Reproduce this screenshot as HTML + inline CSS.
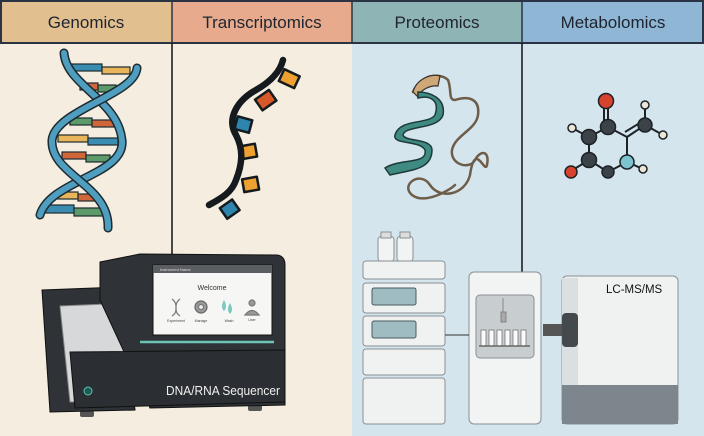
<!DOCTYPE html>
<html><head><style>
html,body{margin:0;padding:0;width:704px;height:436px;overflow:hidden;background:#fff}
svg{display:block}
text{font-family:"Liberation Sans",sans-serif}
</style></head><body>
<svg width="704" height="436" viewBox="0 0 704 436" xmlns="http://www.w3.org/2000/svg">
<rect x="0" y="0" width="352" height="436" fill="#f4ede0"/>
<rect x="352" y="0" width="352" height="436" fill="#d5e5ee"/>
<rect x="0" y="0" width="172" height="43" fill="#e2bf8f"/>
<rect x="172" y="0" width="180" height="43" fill="#e8aa8c"/>
<rect x="352" y="0" width="170" height="43" fill="#8fb4b5"/>
<rect x="522" y="0" width="182" height="43" fill="#8fb7d5"/>
<rect x="1" y="1" width="702" height="42" fill="none" stroke="#2a3344" stroke-width="2"/>
<line x1="172" y1="0" x2="172" y2="43" stroke="#2a3344" stroke-width="1.5"/>
<line x1="352" y1="0" x2="352" y2="43" stroke="#2a3344" stroke-width="1.5"/>
<line x1="522" y1="0" x2="522" y2="43" stroke="#2a3344" stroke-width="1.5"/>
<g font-size="17" fill="#1e2430" text-anchor="middle">
<text x="86" y="28">Genomics</text><text x="262" y="28">Transcriptomics</text>
<text x="437" y="28">Proteomics</text><text x="613" y="28">Metabolomics</text></g>
<line x1="172" y1="43" x2="172" y2="256" stroke="#111" stroke-width="1.5"/>
<line x1="522" y1="43" x2="522" y2="272" stroke="#111" stroke-width="1.5"/>
<g stroke="#1d2a30" stroke-width="1.2">
<rect x="72" y="64" width="30" height="7" fill="#3a8db0"/><rect x="102" y="67" width="28" height="7" fill="#e8b55a"/>
<rect x="80" y="83" width="18" height="7" fill="#d0663a"/><rect x="98" y="85" width="18" height="7" fill="#5d9a6a"/>
<rect x="70" y="118" width="22" height="7" fill="#5d9a6a"/><rect x="92" y="120" width="22" height="7" fill="#d0663a"/>
<rect x="58" y="135" width="30" height="7" fill="#e8b55a"/><rect x="88" y="138" width="30" height="7" fill="#3a8db0"/>
<rect x="62" y="152" width="24" height="7" fill="#d0663a"/><rect x="86" y="155" width="24" height="7" fill="#5d9a6a"/>
<rect x="58" y="192" width="20" height="7" fill="#e8b55a"/><rect x="78" y="194" width="18" height="7" fill="#d0663a"/>
<rect x="44" y="205" width="30" height="8" fill="#3a8db0"/><rect x="74" y="208" width="30" height="8" fill="#5d9a6a"/>
</g>
<g fill="none" stroke-linecap="round">
<path d="M64,53 C66,85 118,100 122,140 C126,175 50,180 40,215" stroke="#1d2a30" stroke-width="9"/>
<path d="M64,53 C66,85 118,100 122,140 C126,175 50,180 40,215" stroke="#4f9ec0" stroke-width="6"/>
<path d="M137,68 C135,95 55,110 52,140 C50,175 110,185 108,228" stroke="#1d2a30" stroke-width="9"/>
<path d="M137,68 C135,95 55,110 52,140 C50,175 110,185 108,228" stroke="#4f9ec0" stroke-width="6"/>
</g>
<g stroke="#151a1e" stroke-width="2.5" stroke-linejoin="round">
<rect x="281" y="72" width="17" height="13" fill="#eea030" transform="rotate(25 289 78)"/>
<rect x="257" y="94" width="17" height="13" fill="#d8582a" transform="rotate(-35 265 100)"/>
<rect x="236" y="118" width="15" height="13" fill="#2d85ad" transform="rotate(15 243 124)"/>
<rect x="241" y="145" width="15" height="13" fill="#eea030" transform="rotate(-10 248 151)"/>
<rect x="243" y="178" width="15" height="13" fill="#eea030" transform="rotate(-10 250 184)"/>
<rect x="222" y="203" width="15" height="13" fill="#2d85ad" transform="rotate(-35 229 209)"/>
</g>
<path d="M209,205 C222,198 232,192 236,180 C242,165 244,150 236,135 C226,118 238,100 256,90 C270,82 280,72 283,60" fill="none" stroke="#151a1e" stroke-width="6.5" stroke-linecap="round"/>
<g fill="none" stroke-linecap="round">
<path d="M413,92 C420,75 440,72 448,80 C452,90 448,100 455,100 C470,95 480,100 478,115 C476,130 455,135 452,150 C450,165 470,170 475,160 C480,150 490,150 487,165 C485,175 475,140 470,175 C465,195 440,200 430,185 C420,170 400,185 412,195 C425,205 450,190 455,185" stroke="#6e5d48" stroke-width="2.5"/>
<path d="M413,92 C416,80 430,73 440,76 L438,86 C430,85 420,90 418,97 Z" fill="#cfa87a" stroke="#3a3028" stroke-width="1.2"/>
<path d="M418,98 C430,95 440,100 435,115 C428,125 400,118 395,135 C392,145 420,140 425,150 C428,165 400,158 385,168 L390,175 C410,170 432,170 432,150 C432,138 405,142 403,135 C405,125 438,130 443,115 C446,98 430,92 418,92 Z" fill="#3f8a82" stroke="#1d3a38" stroke-width="1.5"/>
</g>
<g stroke="#1c2226" stroke-width="2">
<line x1="608" y1="102" x2="608" y2="127"/><line x1="604" y1="102" x2="604" y2="127"/>
<line x1="608" y1="127" x2="589" y2="137"/><line x1="589" y1="137" x2="572" y2="128"/>
<line x1="589" y1="137" x2="589" y2="160"/><line x1="589" y1="160" x2="571" y2="171"/>
<line x1="589" y1="160" x2="608" y2="172"/><line x1="608" y1="172" x2="627" y2="162"/>
<line x1="627" y1="162" x2="643" y2="169"/><line x1="627" y1="162" x2="627" y2="137"/>
<line x1="627" y1="137" x2="608" y2="127"/><line x1="627" y1="137" x2="645" y2="125"/><line x1="625" y1="132" x2="643" y2="121"/>
<line x1="645" y1="125" x2="645" y2="105"/><line x1="645" y1="125" x2="663" y2="135"/>
</g>
<g stroke="#1c2226" stroke-width="1.5">
<circle cx="606" cy="101" r="7.5" fill="#d8432f"/><circle cx="571" cy="172" r="6" fill="#d8432f"/>
<circle cx="608" cy="127" r="7.5" fill="#3b4348"/><circle cx="589" cy="137" r="7.5" fill="#3b4348"/>
<circle cx="589" cy="160" r="7.5" fill="#3b4348"/><circle cx="608" cy="172" r="6" fill="#3b4348"/>
<circle cx="645" cy="125" r="7" fill="#3b4348"/><circle cx="627" cy="162" r="7" fill="#7cc4cf"/>
<circle cx="572" cy="128" r="4" fill="#ebe8d8"/><circle cx="645" cy="105" r="4" fill="#ebe8d8"/>
<circle cx="663" cy="135" r="4" fill="#ebe8d8"/><circle cx="643" cy="169" r="4" fill="#ebe8d8"/>
</g>
<rect x="80" y="411" width="14" height="6" rx="2" fill="#555"/><rect x="248" y="405" width="14" height="6" rx="2" fill="#555"/>
<path d="M42,290 L120,287 L135,410 L50,412 Z" fill="#2f3236" stroke="#111" stroke-width="1"/>
<path d="M60,306 L130,303 L135,400 L70,402 Z" fill="#d6d8da" stroke="#888"/>
<path d="M100,262 L140,254 L277,255 Q285,256 285,265 L285,405 L150,408 L100,300 Z" fill="#2f3236" stroke="#111"/>
<path d="M70,352 L285,350 L285,402 L75,408 Z" fill="#2b2e32" stroke="#111"/>
<rect x="153" y="265" width="119" height="70" fill="#f6f6f4" stroke="#111"/>
<rect x="153" y="265" width="119" height="8" fill="#5a5d62"/>
<text x="160" y="271" font-size="4" fill="#ddd">Instrument Name</text>
<text x="212" y="290" font-size="7" fill="#333" text-anchor="middle">Welcome</text>
<g stroke="#777" fill="none" stroke-width="1.2"><path d="M172,299 C180,305 172,311 180,316 M180,299 C172,305 180,311 172,316"/>
<circle cx="201" cy="307" r="6" fill="#999" stroke="#666"/><circle cx="201" cy="307" r="2.5" fill="#eee"/>
<circle cx="252" cy="303" r="3" fill="#999"/><path d="M245,315 Q252,306 259,315 Z" fill="#999"/></g>
<path d="M224,300 Q220,307 224,311 Q228,307 224,300 Z M230,303 Q226,310 230,314 Q234,310 230,303 Z" fill="#7cc8bf"/>
<g font-size="3.5" fill="#444" text-anchor="middle"><text x="176" y="322">Experiment</text><text x="201" y="322">Manage</text><text x="229" y="322">Wash</text><text x="252" y="321">User</text></g>
<line x1="140" y1="342" x2="274" y2="342" stroke="#6cc3b6" stroke-width="2.5"/>
<circle cx="88" cy="391" r="4" fill="#1f5c55" stroke="#5ac4b0" stroke-width="1"/>
<text x="166" y="395" font-size="12.5" fill="#f0f0f0" textLength="114" lengthAdjust="spacingAndGlyphs">DNA/RNA Sequencer</text>
<g stroke="#8a8f94" stroke-width="1">
<rect x="378" y="236" width="16" height="26" rx="4" fill="#f2f3f3"/><rect x="397" y="236" width="16" height="26" rx="4" fill="#f2f3f3"/>
<rect x="381" y="232" width="10" height="6" fill="#ddd"/><rect x="400" y="232" width="10" height="6" fill="#ddd"/>
<rect x="363" y="261" width="82" height="18" rx="3" fill="#f0f1f1"/>
<rect x="363" y="283" width="82" height="30" rx="3" fill="#f0f1f1"/>
<rect x="363" y="316" width="82" height="30" rx="3" fill="#f0f1f1"/>
<rect x="363" y="349" width="82" height="26" rx="3" fill="#f0f1f1"/>
<rect x="363" y="378" width="82" height="46" rx="3" fill="#f0f1f1"/>
<rect x="372" y="288" width="44" height="17" rx="2" fill="#9fbcc2" stroke="#4a5a60"/>
<rect x="372" y="321" width="44" height="17" rx="2" fill="#9fbcc2" stroke="#4a5a60"/>
<rect x="469" y="272" width="72" height="152" rx="5" fill="#f2f3f3"/>
<rect x="476" y="295" width="58" height="63" rx="4" fill="#c8cdd0"/>
</g>
<line x1="445" y1="335" x2="469" y2="335" stroke="#333"/>
<g stroke="#777" stroke-width="0.8"><line x1="503" y1="298" x2="503" y2="322"/><rect x="501" y="312" width="5" height="10" fill="#aaa"/>
<rect x="481" y="330" width="5" height="16" fill="#fafafa"/><rect x="489" y="330" width="5" height="16" fill="#fafafa"/><rect x="497" y="330" width="5" height="16" fill="#fafafa"/><rect x="505" y="330" width="5" height="16" fill="#fafafa"/><rect x="513" y="330" width="5" height="16" fill="#fafafa"/><rect x="521" y="330" width="5" height="16" fill="#fafafa"/>
<line x1="479" y1="346" x2="530" y2="346" stroke="#666" stroke-width="1.5"/></g>
<rect x="562" y="276" width="116" height="148" rx="5" fill="#f0f1f1" stroke="#8a8f94"/>
<rect x="562" y="278" width="16" height="146" fill="#dcdfe1"/>
<rect x="562" y="385" width="116" height="39" fill="#7d868d"/>
<rect x="543" y="324" width="20" height="12" fill="#555"/>
<rect x="562" y="313" width="16" height="34" rx="4" fill="#44494d"/>
<text x="606" y="293" font-size="11.5" fill="#111">LC-MS/MS</text>
</svg>
</body></html>
